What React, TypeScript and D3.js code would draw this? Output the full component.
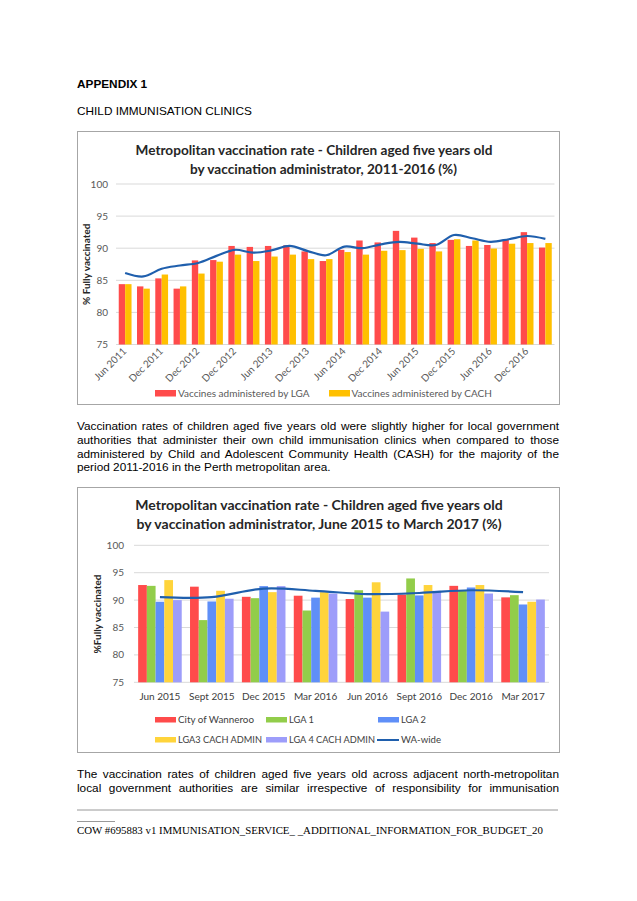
import React, { useEffect, useRef } from "react";
import * as d3 from "d3";

// ---------- Chart 1 data ----------
const tickLabels1 = ["Jun 2011", "Dec 2011", "Dec 2012", "Dec 2012", "Jun 2013", "Dec 2013", "Jun 2014", "Dec 2014", "Jun 2015", "Dec 2015", "Jun 2016", "Dec 2016"];
const lga1 = [84.4, 84.05, 85.3, 83.7, 88.1, 88.15, 90.35, 90.2, 90.35, 90.45, 89.5, 88.0, 89.75, 91.2, 90.9, 92.7, 91.65, 90.8, 91.3, 90.35, 90.5, 91.3, 92.5, 90.1];
const cach1 = [84.4, 83.7, 85.9, 84.05, 86.05, 87.9, 89.0, 88.0, 88.7, 89.0, 88.3, 88.3, 89.4, 89.0, 89.6, 89.7, 89.9, 89.5, 91.4, 91.2, 89.95, 90.7, 90.8, 90.8];
const wa1 = [86.15, 85.6, 86.8, 87.3, 87.7, 88.8, 89.75, 89.3, 89.65, 90.35, 89.55, 88.9, 90.25, 90.0, 90.6, 91.0, 90.7, 90.5, 92.05, 91.55, 91.0, 91.4, 91.9, 91.45];

// ---------- Chart 2 data ----------
const cats2 = ["Jun 2015", "Sept 2015", "Dec 2015", "Mar 2016", "Jun 2016", "Sept 2016", "Dec 2016", "Mar 2017"];
const wanneroo = [92.75, 92.45, 90.6, 90.8, 90.2, 91.0, 92.6, 90.5];
const lgaOne = [92.6, 86.35, 90.35, 88.1, 91.8, 93.95, 91.8, 90.9];
const lgaTwo = [89.7, 89.75, 92.55, 90.45, 90.45, 90.85, 92.3, 89.2];
const lgaThree = [93.65, 91.7, 91.45, 91.45, 93.25, 92.75, 92.75, 89.7];
const lgaFour = [90.0, 90.25, 92.55, 91.2, 87.9, 91.7, 91.2, 90.1];
const waWide2 = [90.55, 90.55, 92.1, 91.7, 91.1, 91.3, 91.8, 91.45];

const yTicks = [75, 80, 85, 90, 95, 100];

const series2 = [
  { name: "City of Wanneroo", values: wanneroo, color: "#FF4B4B" },
  { name: "LGA 1", values: lgaOne, color: "#92CD4A" },
  { name: "LGA 2", values: lgaTwo, color: "#5F8FF8" },
  { name: "LGA3 CACH ADMIN", values: lgaThree, color: "#FFD43B" },
  { name: "LGA 4 CACH ADMIN", values: lgaFour, color: "#9D9DFA" },
];

const para1 = [
  "Vaccination rates of children aged five years old were slightly higher for local government",
  "authorities that administer their own child immunisation clinics when compared to those",
  "administered by Child and Adolescent Community Health (CASH) for the majority of the",
  "period 2011-2016 in the Perth metropolitan area.",
];
const para2 = [
  "The vaccination rates of children aged five years old across adjacent north-metropolitan",
  "local government authorities are similar irrespective of responsibility for immunisation",
];

const CF = "Lato, 'Open Sans', sans-serif";
const AF = "'Liberation Sans', Arial, sans-serif";
const LINE = "#1F5FAD";
const GRID = "#D9D9D9";
const TICK = "#595959";
const BODY = 11.8;

function JustLine({ x, y, width, text, justify }: { x: number; y: number; width: number; text: string; justify: boolean }) {
  const ref = useRef<SVGTextElement>(null);
  useEffect(() => {
    const el = ref.current;
    if (!el || !justify) return;
    el.setAttribute("word-spacing", "0");
    const w = el.getComputedTextLength();
    const spaces = (text.match(/ /g) || []).length;
    if (spaces > 0) el.setAttribute("word-spacing", String((width - w) / spaces));
  }, [text, width, justify]);
  return (
    <text ref={ref} x={x} y={y} fontFamily={AF} fontSize={BODY} fill="#000" style={{ whiteSpace: "pre" }}>
      {text}
    </text>
  );
}

function Chart1() {
  const idx = d3.range(lga1.length).map(String);
  const x = d3.scaleBand<string>().domain(idx).range([116, 554.5]).paddingInner(0.3).paddingOuter(0.15);
  const xs = d3.scaleBand<string>().domain(["lga", "cach"]).range([0, x.bandwidth()]);
  const y = d3.scaleLinear().domain([75, 100]).range([344.5, 184]);
  const line = d3
    .line<number>()
    .x((_, i) => (x(String(i)) as number) + x.bandwidth() / 2)
    .y((d) => y(d))
    .curve(d3.curveCatmullRom.alpha(0.5));
  return (
    <g>
      <rect x={77.5} y={131.5} width={482} height={273} fill="#fff" stroke="#A6A6A6" strokeWidth={1} />
      <text x={314} y={155} textAnchor="middle" fontFamily={CF} fontWeight={700} fontSize={13.6} fill="#262626">
        Metropolitan vaccination rate - Children aged five years old
      </text>
      <text x={323.5} y={173.5} textAnchor="middle" fontFamily={CF} fontWeight={700} fontSize={13.6} fill="#262626">
        by vaccination administrator, 2011-2016 (%)
      </text>
      {yTicks.map((t) => (
        <g key={t}>
          <line x1={116} x2={554.5} y1={y(t)} y2={y(t)} stroke={GRID} strokeWidth={1} />
          <text x={108} y={y(t) + 3.5} textAnchor="end" fontFamily={CF} fontSize={10} fill={TICK}>
            {t}
          </text>
        </g>
      ))}
      <text transform={`translate(90,${(y(75) + y(100)) / 2}) rotate(-90)`} textAnchor="middle" fontFamily={CF} fontWeight={700} fontSize={10} fill="#262626">
        % Fully vaccinated
      </text>
      {idx.map((k, i) => (
        <g key={k}>
          <rect x={(x(k) as number) + (xs("lga") as number)} width={xs.bandwidth()} y={y(lga1[i])} height={y(75) - y(lga1[i])} fill="#FF4B4B" />
          <rect x={(x(k) as number) + (xs("cach") as number)} width={xs.bandwidth()} y={y(cach1[i])} height={y(75) - y(cach1[i])} fill="#FFC000" />
        </g>
      ))}
      <path d={line(wa1) || ""} fill="none" stroke={LINE} strokeWidth={2.2} />
      {tickLabels1.map((lab, j) => {
        const cx = (x(String(j * 2)) as number) + x.bandwidth() / 2;
        return (
          <text key={j} transform={`translate(${cx + 2},${352}) rotate(-45)`} textAnchor="end" fontFamily={CF} fontSize={10} fill={TICK}>
            {lab}
          </text>
        );
      })}
      <rect x={155} y={390} width={21} height={6.5} fill="#FF4B4B" />
      <text x={178} y={396.5} fontFamily={CF} fontSize={10} fill={TICK}>Vaccines administered by LGA</text>
      <rect x={329} y={390} width={21} height={6.5} fill="#FFC000" />
      <text x={351.5} y={396.5} fontFamily={CF} fontSize={10} fill={TICK}>Vaccines administered by CACH</text>
    </g>
  );
}

function Chart2() {
  const x = d3.scaleBand<string>().domain(cats2).range([134, 549]).paddingInner(0.16).paddingOuter(0.08);
  const xs = d3.scaleBand<string>().domain(series2.map((s) => s.name)).range([0, x.bandwidth()]);
  const y = d3.scaleLinear().domain([75, 100]).range([682.3, 545.3]);
  const line = d3
    .line<number>()
    .x((_, i) => (x(cats2[i]) as number) + x.bandwidth() / 2)
    .y((d) => y(d))
    .curve(d3.curveCatmullRom.alpha(0.5));
  const legend = [
    { name: "City of Wanneroo", color: "#FF4B4B", x: 155, y: 717, w: 76 },
    { name: "LGA 1", color: "#92CD4A", x: 266, y: 717, w: 25 },
    { name: "LGA 2", color: "#5F8FF8", x: 378, y: 717, w: 25 },
    { name: "LGA3 CACH ADMIN", color: "#FFD43B", x: 155, y: 737, w: 84 },
    { name: "LGA 4 CACH ADMIN", color: "#9D9DFA", x: 266, y: 737, w: 86 },
  ];
  return (
    <g>
      <rect x={77.5} y={487.5} width={482} height={265} fill="#fff" stroke="#A6A6A6" strokeWidth={1} />
      <text x={319} y={510} textAnchor="middle" fontFamily={CF} fontWeight={700} fontSize={14} fill="#262626">
        Metropolitan vaccination rate - Children aged five years old
      </text>
      <text x={319} y={528.5} textAnchor="middle" fontFamily={CF} fontWeight={700} fontSize={14} fill="#262626">
        by vaccination administrator, June 2015 to March 2017 (%)
      </text>
      {yTicks.map((t) => (
        <g key={t}>
          <line x1={134} x2={549} y1={y(t)} y2={y(t)} stroke={GRID} strokeWidth={1} />
          <text x={124} y={y(t) + 3.5} textAnchor="end" fontFamily={CF} fontSize={10} fill={TICK}>
            {t}
          </text>
        </g>
      ))}
      <text transform={`translate(101,${614}) rotate(-90)`} textAnchor="middle" fontFamily={CF} fontWeight={700} fontSize={10} fill="#262626">
        %Fully vaccinated
      </text>
      {cats2.map((c, i) => (
        <g key={c}>
          {series2.map((s) => (
            <rect key={s.name} x={(x(c) as number) + (xs(s.name) as number)} width={xs.bandwidth()} y={y(s.values[i])} height={y(75) - y(s.values[i])} fill={s.color} />
          ))}
          <text x={(x(c) as number) + x.bandwidth() / 2} y={700} textAnchor="middle" fontFamily={CF} fontSize={10} fill="#404040">
            {c}
          </text>
        </g>
      ))}
      <path d={line(waWide2) || ""} fill="none" stroke={LINE} strokeWidth={2.2} />
      {legend.map((l) => (
        <g key={l.name}>
          <rect x={l.x} y={l.y} width={21} height={5.5} fill={l.color} />
          <text x={l.x + 23} y={l.y + 6} fontFamily={CF} fontSize={10} fill="#404040" textLength={l.w} lengthAdjust="spacingAndGlyphs">
            {l.name}
          </text>
        </g>
      ))}
      <line x1={377} x2={399} y1={740} y2={740} stroke={LINE} strokeWidth={2} />
      <text x={401} y={743} fontFamily={CF} fontSize={10} fill="#404040" textLength={40} lengthAdjust="spacingAndGlyphs">WA-wide</text>
    </g>
  );
}

export default function App() {
  return (
    <svg width={637} height={901} viewBox="0 0 637 901" style={{ position: "absolute", left: 0, top: 0, background: "#fff" }}>
      <rect x={0} y={0} width={637} height={901} fill="#fff" />
      <text x={77} y={88} fontFamily={AF} fontWeight={700} fontSize={BODY} fill="#000">APPENDIX 1</text>
      <text x={77} y={115} fontFamily={AF} fontSize={BODY} fill="#000">CHILD IMMUNISATION CLINICS</text>
      <Chart1 />
      {para1.map((t, i) => (
        <JustLine key={i} x={77} y={430 + i * 13.8} width={482} text={t} justify={i < para1.length - 1} />
      ))}
      <Chart2 />
      {para2.map((t, i) => (
        <JustLine key={i} x={77} y={778 + i * 13.6} width={482} text={t} justify={true} />
      ))}
      <line x1={77} x2={558} y1={810} y2={810} stroke="#7F7F7F" strokeWidth={0.8} />
      <line x1={77} x2={115} y1={821.5} y2={821.5} stroke="#7F7F7F" strokeWidth={0.8} />
      <text x={77} y={834} fontFamily="'Liberation Serif', 'Times New Roman', serif" fontSize={10.85} fill="#000">
        COW #695883 v1 IMMUNISATION_SERVICE_ _ADDITIONAL_INFORMATION_FOR_BUDGET_20
      </text>
    </svg>
  );
}
